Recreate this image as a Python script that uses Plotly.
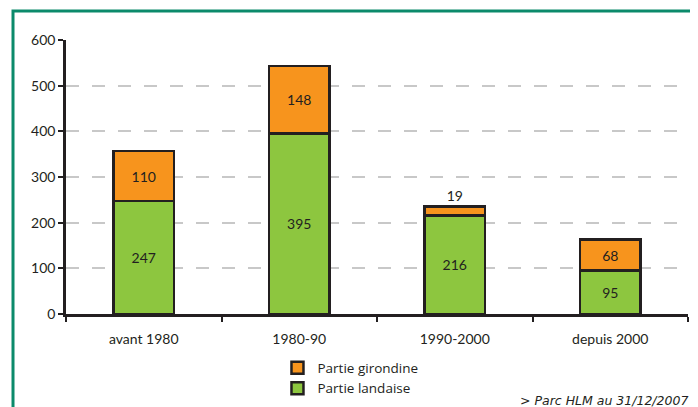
import plotly.graph_objects as go

categories = ["avant 1980", "1980-90", "1990-2000", "depuis 2000"]
landaise = [247, 395, 216, 95]
girondine = [110, 148, 19, 68]
series_names = ["Partie landaise", "Partie girondine"]
y_ticks = [0, 100, 200, 300, 400, 500, 600]
note = "> Parc HLM au 31/12/2007"

DARK = "#231F20"
GREEN = "#8DC63F"
ORANGE = "#F7941D"
FONT = "Lato"

fig = go.Figure()
fig.add_trace(go.Bar(
    x=categories, y=landaise, name=series_names[0],
    marker=dict(color=GREEN, line=dict(color=DARK, width=2.5)),
    text=[str(v) for v in landaise], textposition="inside", insidetextanchor="middle",
    textfont=dict(color=DARK, size=14, family=FONT),
))
gir_pos = ["inside" if v >= 40 else "outside" for v in girondine]
fig.add_trace(go.Bar(
    x=categories, y=girondine, name=series_names[1],
    marker=dict(color=ORANGE, line=dict(color=DARK, width=2.5)),
    text=[str(v) for v in girondine], textposition=gir_pos, insidetextanchor="middle",
    textfont=dict(color=DARK, size=14, family=FONT),
    cliponaxis=False,
))

fig.update_layout(
    width=682, height=399,
    barmode="stack", bargap=0.61,
    margin=dict(l=58, r=2, t=32, b=93),
    paper_bgcolor="white", plot_bgcolor="white",
    font=dict(family=FONT, size=13, color=DARK),
    uniformtext=dict(minsize=10, mode="show"),
    xaxis=dict(
        type="category", showgrid=False, showline=True, linecolor=DARK, linewidth=2.5,
        ticks="outside", tickson="boundaries", ticklen=5, tickwidth=2, tickcolor=DARK,
        tickfont=dict(size=14, color=DARK), ticklabelstandoff=10, fixedrange=True,
    ),
    yaxis=dict(
        range=[0, 600], tickvals=y_ticks, showline=True, linecolor=DARK, linewidth=2.5,
        ticks="outside", ticklen=5, tickwidth=2, tickcolor=DARK,
        showgrid=True, gridcolor="#C8C8C8", gridwidth=1.5, griddash="13px,13px",
        zeroline=False, tickfont=dict(size=14, color=DARK),
    ),
    legend=dict(
        x=0.34, y=-0.14, xanchor="left", yanchor="top",
        font=dict(size=13.5, color=DARK, family="Open Sans"), tracegroupgap=0,
    ),
    showlegend=True,
)

fig.add_shape(type="rect", xref="paper", yref="paper",
              x0=-0.0852, x1=1.2, y0=-0.6, y1=1.106,
              line=dict(color="#0B8A6B", width=3), fillcolor="rgba(0,0,0,0)", layer="below")

fig.add_annotation(text="<i>" + note + "</i>", xref="paper", yref="paper",
                   x=1.003, y=-0.314, xanchor="right", yanchor="middle",
                   showarrow=False, font=dict(size=12.5, color=DARK, family="DejaVu Sans"))

fig.write_html("out.html")
